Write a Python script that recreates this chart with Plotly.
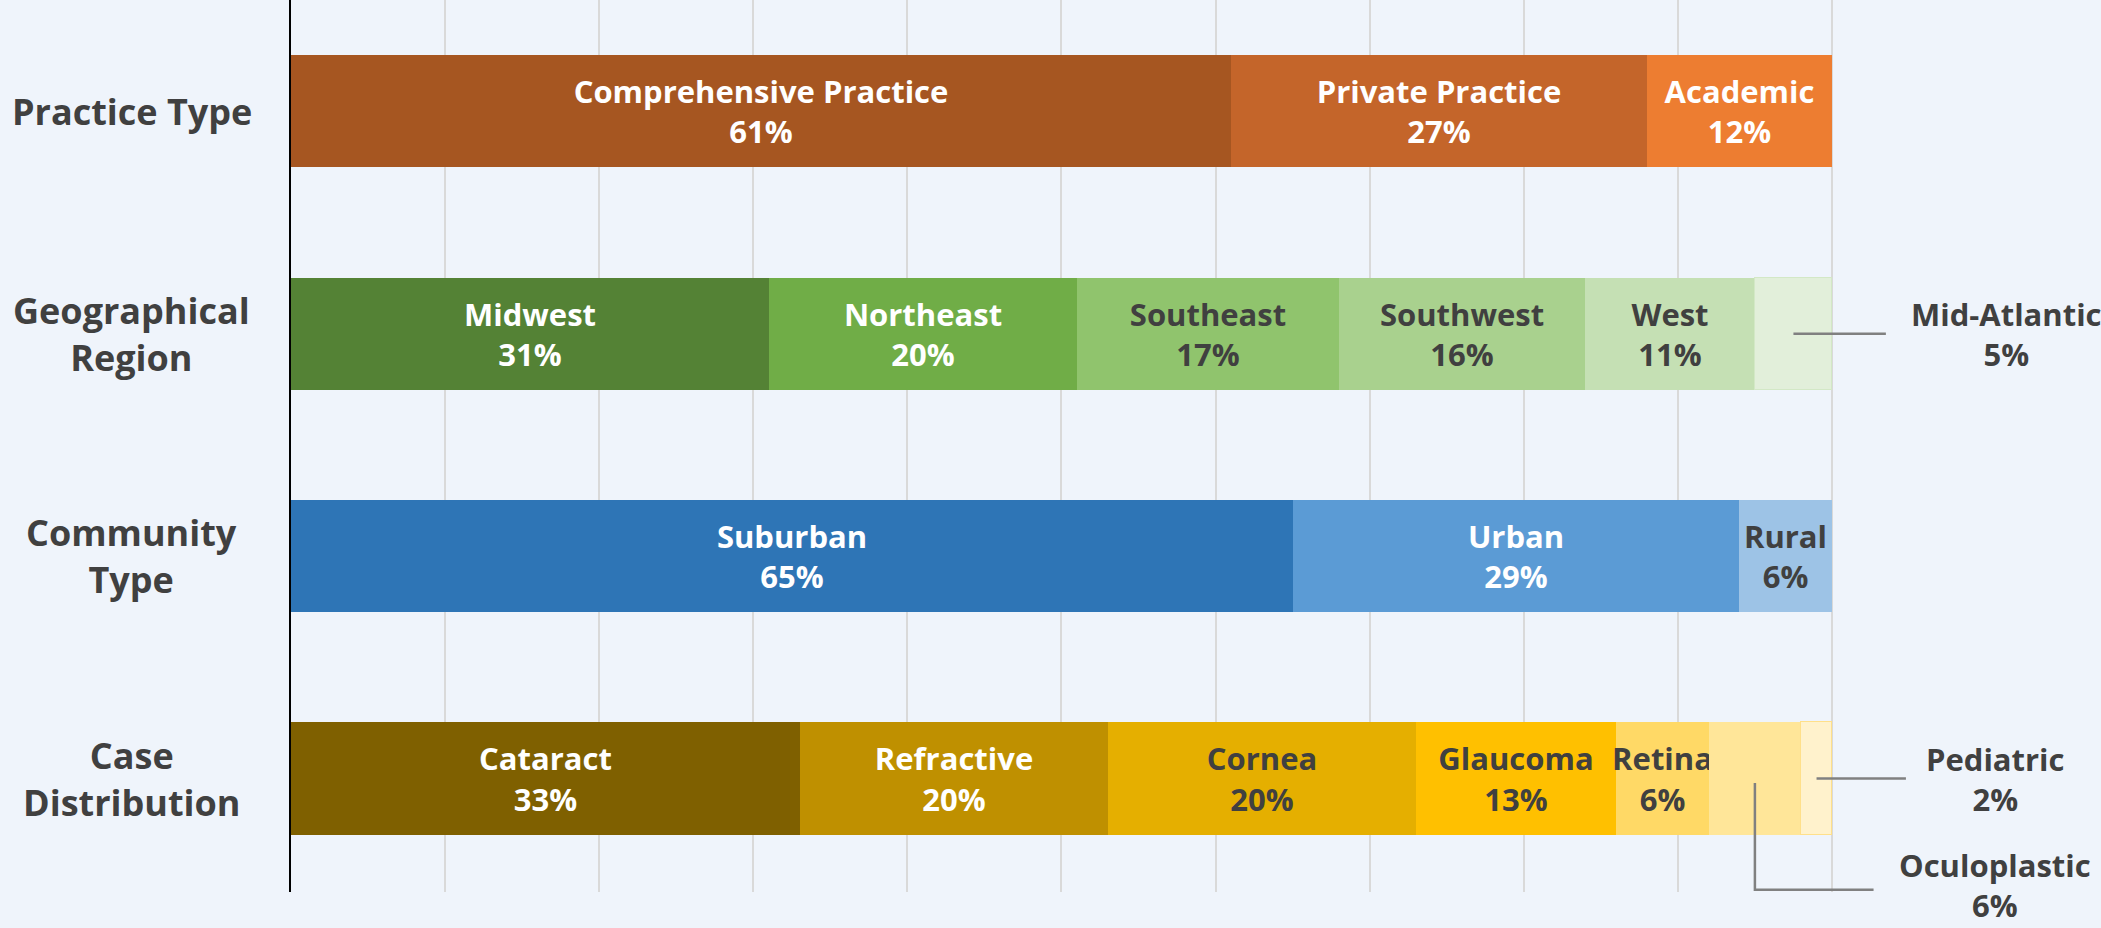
import plotly.graph_objects as go

# categories (top to bottom)
categories = ["Practice Type", "Geographical<br>Region", "Community<br>Type", "Case<br>Distribution"]

practice_labels = ["Comprehensive Practice", "Private Practice", "Academic"]
practice_values = [61, 27, 12]

region_labels = ["Midwest", "Northeast", "Southeast", "Southwest", "West", "Mid-Atlantic"]
region_values = [31, 20, 17, 16, 11, 5]

community_labels = ["Suburban", "Urban", "Rural"]
community_values = [65, 29, 6]

case_labels = ["Cataract", "Refractive", "Cornea", "Glaucoma", "Retina", "Oculoplastic", "Pediatric"]
case_values = [33, 20, 20, 13, 6, 6, 2]

grid_ticks = [0, 10, 20, 30, 40, 50, 60, 70, 80, 90, 100]

# styling
WHITE = "#FFFFFF"
DARK = "#404040"
FONT = "Open Sans"
BG = "#EFF4FB"

groups = [
    (practice_labels, practice_values,
     ["#A65621", "#C4652A", "#ED7D31"],
     [WHITE, WHITE, WHITE]),
    (region_labels, region_values,
     ["#548235", "#70AD47", "#90C46D", "#A9D18E", "#C5E0B4", "#E2EFDA"],
     [WHITE, WHITE, DARK, DARK, DARK, DARK]),
    (community_labels, community_values,
     ["#2E75B6", "#5B9BD5", "#9DC3E6"],
     [WHITE, WHITE, DARK]),
    (case_labels, case_values,
     ["#7F6000", "#BF9000", "#E5AF00", "#FFC000", "#FFD966", "#FFE699", "#FFF2CC"],
     [WHITE, WHITE, DARK, DARK, DARK, DARK, DARK]),
]

# segments too thin for an inside label -> labelled outside with a leader line
outside = {"Mid-Atlantic", "Oculoplastic", "Pediatric"}
edge_colors = {"Mid-Atlantic": "#D3E8C6", "Pediatric": "#FFE08A"}

fig = go.Figure()

for i, (labels, values, colors, txtcolors) in enumerate(groups):
    for lab, val, col, tc in zip(labels, values, colors, txtcolors):
        text = "" if lab in outside else f"{lab}<br>{val}%"
        fig.add_trace(go.Bar(
            x=[val], y=[i], orientation="h", width=0.505,
            marker=dict(color=col,
                        line=dict(color=edge_colors.get(lab, col),
                                  width=1.5 if lab in edge_colors else 0)),
            text=[text], textposition="inside", insidetextanchor="middle",
            textangle=0, constraintext="none",
            textfont=dict(family=FONT, size=31, color=tc, weight="bold"),
            hoverinfo="skip", showlegend=False))


def seg_mid(values, k):
    return sum(values[:k]) + values[k] / 2


LEADER = dict(color="#808080", width=2.5)

# Mid-Atlantic leader
xm = seg_mid(region_values, 5)
fig.add_trace(go.Scatter(x=[xm, 103.5], y=[1, 1], mode="lines", line=LEADER,
                         hoverinfo="skip", showlegend=False))
# Pediatric leader
xp = seg_mid(case_values, 6)
fig.add_trace(go.Scatter(x=[xp, 104.8], y=[3, 3], mode="lines", line=LEADER,
                         hoverinfo="skip", showlegend=False))
# Oculoplastic leader (down then right)
xo = seg_mid(case_values, 5)
fig.add_trace(go.Scatter(x=[xo, xo, 102.7], y=[3.02, 3.5, 3.5], mode="lines", line=LEADER,
                         hoverinfo="skip", showlegend=False))

outside_font = dict(family=FONT, size=31, color=DARK, weight="bold")
fig.add_annotation(x=111.3, y=1, xref="x", yref="y", showarrow=False,
                   text=f"Mid-Atlantic<br>{region_values[5]}%", font=outside_font,
                   xanchor="center", yanchor="middle")
fig.add_annotation(x=110.6, y=3, xref="x", yref="y", showarrow=False,
                   text=f"Pediatric<br>{case_values[6]}%", font=outside_font,
                   xanchor="center", yanchor="middle")
fig.add_annotation(x=110.6, y=3.5, xref="x", yref="y", showarrow=False, yshift=5,
                   text=f"Oculoplastic<br>{case_values[5]}%", font=outside_font,
                   xanchor="center", yanchor="middle")

# category labels, centred multi-line
for i, cat in enumerate(categories):
    fig.add_annotation(x=-0.088, y=i, xref="paper", yref="y", showarrow=False,
                       text=cat, align="center", xanchor="center", yanchor="middle",
                       font=dict(family=FONT, size=36, color=DARK, weight="bold"))

fig.update_layout(
    width=2101, height=928,
    barmode="stack", bargap=0,
    paper_bgcolor=BG, plot_bgcolor=BG,
    margin=dict(l=291, r=0, t=0, b=36),
    xaxis=dict(range=[0, 117.46], tickvals=grid_ticks, showgrid=True, gridcolor="#D9D9D9",
               gridwidth=1.5, zeroline=False, showticklabels=False, fixedrange=True),
    yaxis=dict(range=[3.51, -0.5], showgrid=False, zeroline=False,
               showticklabels=False, showline=True, linecolor="#000000",
               linewidth=2, fixedrange=True),
)

fig.write_html("out.html", config={"displayModeBar": False},
               post_script="document.body.style.margin='0';")
